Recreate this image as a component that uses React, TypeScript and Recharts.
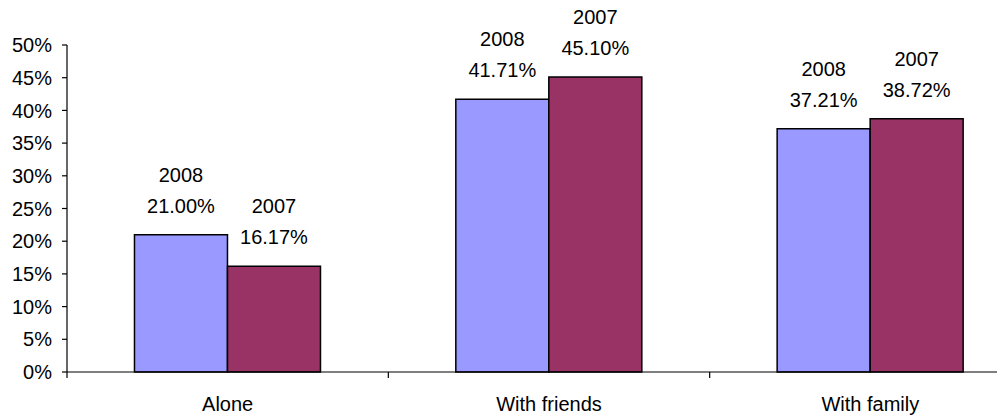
import { BarChart, Bar, XAxis, YAxis, LabelList } from 'recharts';

const categories = ['Alone', 'With friends', 'With family'];
const share2008 = [21.0, 41.71, 37.21];
const share2007 = [16.17, 45.1, 38.72];
const yTicks = [0, 5, 10, 15, 20, 25, 30, 35, 40, 45, 50];

const data = categories.map((name, i) => ({
  name,
  y2008: share2008[i],
  y2007: share2007[i],
}));

const FONT = '"Liberation Sans", Arial, Helvetica, sans-serif';

const makeLabel = (year: string) => (props: any) => {
  const { x, y, width, value } = props;
  const cx = Number(x) + Number(width) / 2;
  const top = Number(y);
  return (
    <g>
      <text x={cx} y={top - 53} textAnchor="middle" fontSize={20} fontFamily={FONT} fill="#000">
        {year}
      </text>
      <text x={cx} y={top - 22} textAnchor="middle" fontSize={20} fontFamily={FONT} fill="#000">
        {Number(value).toFixed(2)}%
      </text>
    </g>
  );
};

// category label in the middle, tick marks on the band edges
const CategoryTick = (props: any) => {
  const { x, y, payload, index } = props;
  const half = payload?.offset ?? 0;
  const last = index === categories.length - 1;
  return (
    <g>
      <line x1={x - half} x2={x - half} y1={y} y2={y + 6} stroke="#000" strokeWidth={1.2} />
      {last && <line x1={x + half} x2={x + half} y1={y} y2={y + 6} stroke="#000" strokeWidth={1.2} />}
      <text x={x} y={y + 39} textAnchor="middle" fontSize={20} fontFamily={FONT} fill="#000">
        {payload.value}
      </text>
    </g>
  );
};

export default function App() {
  return (
    <div style={{ position: 'absolute', left: 0, top: 0, width: 997, height: 416, overflow: 'hidden', background: '#fff' }}>
      <BarChart
        width={1040}
        height={416}
        data={data}
        margin={{ top: 45, right: 9, left: 0, bottom: 0 }}
        barCategoryGap="21%"
        barGap={0}
      >
        <XAxis
          dataKey="name"
          height={44}
          axisLine={{ stroke: '#000', strokeWidth: 1.2 }}
          tickLine={false}
          tickSize={0}
          tickMargin={0}
          interval={0}
          tick={<CategoryTick />}
        />
        <YAxis
          domain={[0, 50]}
          ticks={yTicks}
          width={67}
          tickFormatter={(v: number) => `${v}%`}
          tickSize={5}
          tickMargin={10}
          axisLine={{ stroke: '#000', strokeWidth: 1.2 }}
          tickLine={{ stroke: '#000', strokeWidth: 1.2 }}
          tick={{ fill: '#000', fontSize: 20, fontFamily: FONT }}
          interval={0}
        />
        <Bar dataKey="y2008" fill="#9999FF" stroke="#000" strokeWidth={1.5} isAnimationActive={false}>
          <LabelList dataKey="y2008" content={makeLabel('2008')} />
        </Bar>
        <Bar dataKey="y2007" fill="#993366" stroke="#000" strokeWidth={1.5} isAnimationActive={false}>
          <LabelList dataKey="y2007" content={makeLabel('2007')} />
        </Bar>
      </BarChart>
    </div>
  );
}
